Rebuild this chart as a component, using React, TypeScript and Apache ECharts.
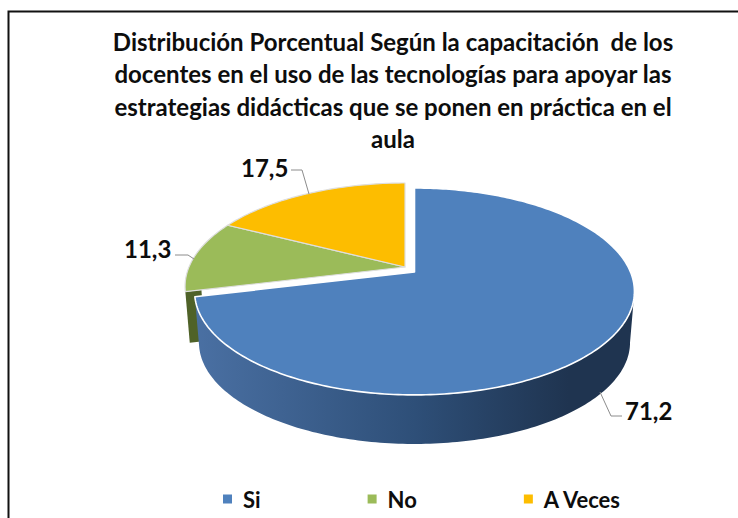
import React, { useEffect, useRef } from "react";
import * as echarts from "echarts";

const categories = ["Si", "No", "A Veces"];
const values = [71.2, 11.3, 17.5];
const titleLines = [
  "Distribución Porcentual Según la capacitación  de los",
  "docentes en el uso de las tecnologías para apoyar las",
  "estrategias didácticas que se ponen en práctica en el",
  "aula",
];
const colors = ["#4f81bd", "#9bbb59", "#fdbd00"];
const FONT = "Lato";

// Perspective projection of the pie disc
const R = 216, S = 99.8, K = 0.188;
const DEPTH = 51.5, BOTTOM_SCALE = 0.98;
const apexBlue = [414.5, 272];
const apexRest = [405, 267];
const apexes = [apexBlue, apexRest, apexRest];
const leaders = [
  [[600, 392], [611, 416], [622, 416]],
  [[194, 259], [188, 255], [175, 255]],
  [[309, 194], [302, 170], [291, 170]],
];
const labelPos = [[625, 410], [124, 248], [241, 167]];

const total = values.reduce((a, b) => a + b, 0);
const startAngle = (i: number) => values.slice(0, i).reduce((a, b) => a + b, 0) / total * 360;

function proj(apex: number[], deg: number, r = 1, low = false) {
  const t = (deg * Math.PI) / 180;
  const u = Math.sin(t) * r, v = -Math.cos(t) * r;
  const d = 1 - K * v;
  const s = low ? BOTTOM_SCALE : 1;
  return [apex[0] + (R * u * s) / d, apex[1] + (S * v * s) / d + (low ? DEPTH : 0)];
}
function arc(apex: number[], a: number, b: number, low = false) {
  const pts: number[][] = [];
  const n = Math.ceil(Math.abs(b - a));
  for (let k = 0; k <= n; k++) pts.push(proj(apex, a + ((b - a) * k) / n, 1, low));
  return pts;
}

function renderSlice(idx: number) {
  return (_p: any, api: any) => {
    const v = api.value(0);
    const a = startAngle(idx);
    const b = a + (v / total) * 360;
    const apex = apexes[idx];
    const children: any[] = [];
    if (idx === 0) {
      const from = Math.max(a, (Math.acos(-K) * 180) / Math.PI);
      children.push({
        type: "polygon",
        shape: { points: [...arc(apex, from, b), ...arc(apex, from, b, true).reverse()] },
        style: {
          fill: new echarts.graphic.LinearGradient(0, 0, 1, 0, [
            { offset: 0, color: "#4a70a3" },
            { offset: 0.5, color: "#2e4f78" },
            { offset: 0.85, color: "#1f3450" },
            { offset: 1, color: "#1f3450" },
          ]),
          stroke: "none",
        },
      });
    }
    if (idx === 1) {
      children.push({
        type: "polygon",
        shape: {
          points: [
            proj(apex, a),
            proj(apex, a, 0.93),
            proj(apex, a, 0.93, true),
            proj(apex, a, 1, true),
          ],
        },
        style: { fill: "#4f6228", stroke: "none" },
      });
    }
    children.push({
      type: "polygon",
      shape: { points: [apex, ...arc(apex, a, b)] },
      style: {
        fill: colors[idx],
        stroke: idx === 0 ? "#ffffff" : "#dedede",
        lineWidth: idx === 0 ? 1.6 : 1.2,
        lineJoin: "round",
      },
    });
    children.push({
      type: "polyline",
      shape: { points: leaders[idx] },
      style: { stroke: "#8c8c8c", lineWidth: 1, fill: "none" },
    });
    children.push({
      type: "text",
      x: labelPos[idx][0],
      y: labelPos[idx][1],
      style: {
        text: String(v).replace(".", ","),
        font: `700 24px ${FONT}`,
        fill: "#0d0d0d",
        align: "left",
        verticalAlign: "middle",
      },
    });
    return { type: "group", children };
  };
}

export default function App() {
  const ref = useRef<HTMLDivElement>(null);
  useEffect(() => {
    const chart = echarts.init(ref.current!, undefined, { renderer: "svg" });
    const order = [1, 2, 0];
    chart.setOption({
      animation: false,
      backgroundColor: "#ffffff",
      title: {
        text: titleLines.join("\n"),
        left: 388,
        top: 20,
        textAlign: "center",
        textStyle: { fontFamily: FONT, fontWeight: 700, fontSize: 24, lineHeight: 32.5, color: "#0d0d0d" },
      },
      legend: {
        data: categories,
        left: 218,
        top: 483,
        icon: "rect",
        itemWidth: 9,
        itemHeight: 9,
        itemGap: 107,
        selectedMode: false,
        textStyle: { fontFamily: FONT, fontWeight: 700, fontSize: 22, color: "#0d0d0d", padding: [0, 0, 0, 6] },
      },
      graphic: [
        {
          type: "polyline",
          shape: { points: [[8.5, 518], [8.5, 11.5], [738, 11.5]] },
          style: { stroke: "#111111", lineWidth: 2, fill: "none" },
          silent: true,
        },
      ],
      series: order.map((i) => ({
        type: "custom",
        name: categories[i],
        coordinateSystem: "none",
        silent: true,
        itemStyle: { color: colors[i] },
        renderItem: renderSlice(i),
        data: [[values[i]]],
      })),
    });
    return () => chart.dispose();
  }, []);
  return <div ref={ref} style={{ position: "absolute", left: 0, top: 0, width: 738, height: 518 }} />;
}
